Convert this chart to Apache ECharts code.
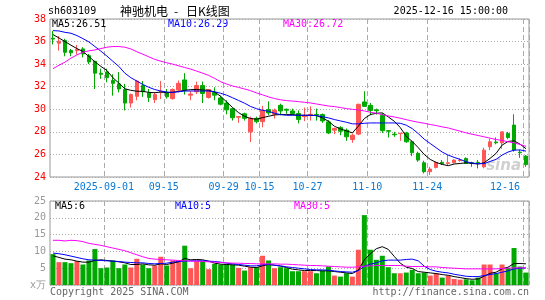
<!DOCTYPE html>
<html><head><meta charset="utf-8">
<script src="https://cdn.jsdelivr.net/npm/echarts@6/dist/echarts.min.js"></script>
<style>html,body{margin:0;padding:0;background:#fff}#c{width:545px;height:300px}</style>
</head><body><div id="c"></div>
<script>
const dates = [
'2025-08-19','2025-08-20','2025-08-21','2025-08-22','2025-08-25','2025-08-26','2025-08-27','2025-08-28','2025-08-29',
'2025-09-01','2025-09-02','2025-09-03','2025-09-04','2025-09-05','2025-09-08','2025-09-09','2025-09-10','2025-09-11','2025-09-12',
'2025-09-15','2025-09-16','2025-09-17','2025-09-18','2025-09-19','2025-09-22','2025-09-23','2025-09-24','2025-09-25','2025-09-26',
'2025-09-29','2025-09-30','2025-10-09','2025-10-10','2025-10-13','2025-10-14','2025-10-15','2025-10-16','2025-10-17',
'2025-10-20','2025-10-21','2025-10-22','2025-10-23','2025-10-24','2025-10-27','2025-10-28','2025-10-29','2025-10-30','2025-10-31',
'2025-11-03','2025-11-04','2025-11-05','2025-11-06','2025-11-07','2025-11-10','2025-11-11','2025-11-12','2025-11-13','2025-11-14',
'2025-11-17','2025-11-18','2025-11-19','2025-11-20','2025-11-21','2025-11-24','2025-11-25','2025-11-26','2025-11-27','2025-11-28',
'2025-12-01','2025-12-02','2025-12-03','2025-12-04','2025-12-05','2025-12-08','2025-12-09','2025-12-10','2025-12-11','2025-12-12',
'2025-12-15','2025-12-16'];

const opens = [36.30,35.85,36.10,35.20,35.20,35.35,34.75,34.25,33.20,33.30,32.55,32.25,31.75,30.55,31.15,
32.10,31.45,30.85,31.50,31.45,30.95,31.70,32.60,31.25,31.55,32.10,31.05,31.50,31.00,30.55,30.05,29.30,29.60,28.00,29.20,28.90,
29.97,29.56,30.35,30.00,29.85,29.62,29.35,29.50,29.55,29.53,28.88,28.15,28.38,28.15,27.32,27.80,30.65,30.35,29.95,29.47,28.10,27.80,27.85,
27.90,27.12,26.10,25.26,24.47,24.85,25.30,25.20,25.26,25.45,25.65,25.26,25.30,24.90,26.68,27.10,27.03,27.85,28.60,26.20,25.85];
const closes = [36.22,36.03,35.05,35.00,35.30,34.90,34.20,33.20,33.10,32.80,32.30,31.80,30.55,31.30,32.50,
31.55,31.05,31.30,31.60,31.10,31.75,32.30,31.70,31.35,32.10,31.40,31.75,31.25,30.45,29.95,29.25,29.35,29.20,29.20,28.90,29.90,
29.68,29.91,29.85,29.92,29.62,29.10,29.40,29.55,29.50,28.97,27.90,28.30,28.06,27.56,27.70,30.44,30.26,29.90,29.88,28.10,28.06,27.74,27.88,
27.12,26.15,25.50,24.47,24.70,25.30,25.20,25.26,25.50,25.50,25.20,25.20,25.26,26.38,27.12,27.03,28.00,27.50,26.38,26.15,25.10];
const lows = [35.74,35.20,34.70,34.70,34.85,34.60,34.00,31.80,32.70,32.40,31.20,31.50,29.90,30.15,30.80,
31.10,30.65,30.55,30.90,30.95,30.85,31.50,31.30,30.80,31.35,30.55,30.95,30.80,30.35,29.55,29.00,28.80,29.00,27.10,28.75,28.40,
29.47,29.18,29.47,29.60,29.47,28.75,28.95,29.00,29.00,28.80,27.80,27.80,27.70,27.20,27.03,27.70,30.20,29.47,29.53,27.90,27.50,27.56,27.20,
27.03,25.85,25.35,24.32,24.18,24.76,25.06,25.06,25.20,25.35,25.15,24.90,24.76,24.76,26.38,26.90,26.50,27.35,26.24,25.70,24.90];
const highs = [36.95,36.50,36.25,35.35,35.70,35.50,34.90,34.30,33.60,33.60,33.10,33.30,32.25,31.40,32.60,
32.50,31.80,31.50,32.50,31.80,31.85,32.55,33.20,31.60,32.45,32.45,31.75,31.95,31.20,30.80,30.15,29.40,29.70,29.35,29.35,30.30,
30.70,30.06,30.50,30.06,30.06,29.90,30.15,30.26,30.06,29.62,29.03,28.38,28.50,28.30,27.85,30.50,31.60,30.56,30.06,29.68,28.15,28.00,27.88,
28.00,27.20,26.24,25.44,24.90,25.35,25.50,25.94,25.56,25.65,25.73,25.35,25.50,26.60,27.40,27.50,28.00,28.00,29.56,26.40,25.94];

const ma5 = [36.62,36.32,36.00,35.68,35.38,35.12,34.68,34.20,33.80,33.44,32.80,32.32,31.82,31.68,31.60,
31.59,31.50,31.47,31.53,31.47,31.50,31.59,31.68,31.74,31.76,31.71,31.68,31.53,31.15,30.65,30.15,29.70,29.38,29.18,29.12,29.26,
29.38,29.50,29.53,29.53,29.53,29.47,29.47,29.47,29.44,29.24,28.94,28.50,28.26,28.09,27.91,28.50,29.18,29.53,29.65,29.68,29.32,28.94,28.38,
27.60,27.15,26.60,26.00,25.56,25.29,25.12,25.00,25.15,25.20,25.26,25.20,25.15,25.26,25.65,26.09,26.82,27.15,27.21,26.91,26.51];
const ma10 = [36.97,36.94,36.82,36.74,36.53,36.26,35.97,35.56,35.15,34.72,34.25,33.80,33.20,32.80,32.50,
32.20,31.95,31.75,31.62,31.53,31.50,31.55,31.62,31.62,31.62,31.62,31.62,31.55,31.42,31.25,31.02,30.78,30.54,30.25,30.05,29.91,
29.82,29.65,29.53,29.47,29.47,29.47,29.47,29.47,29.44,29.35,29.24,29.09,28.97,28.85,28.71,28.71,28.76,28.79,28.79,28.79,28.79,28.79,28.76,
28.59,28.29,27.85,27.35,26.97,26.59,26.21,25.94,25.74,25.56,25.35,25.24,25.18,25.18,25.38,25.56,25.94,26.21,26.38,26.40,26.29];
const ma30 = [33.60,33.90,34.18,34.53,34.82,35.06,35.18,35.26,35.38,35.50,35.56,35.56,35.50,35.35,35.10,
34.88,34.65,34.42,34.26,34.12,34.00,33.85,33.70,33.56,33.38,33.20,33.00,32.74,32.44,32.24,32.06,31.94,31.80,31.65,31.45,31.28,
31.10,30.95,30.84,30.77,30.73,30.68,30.62,30.56,30.47,30.38,30.29,30.24,30.15,30.06,30.00,29.94,29.85,29.74,29.65,29.53,29.41,29.32,29.21,
29.08,28.96,28.85,28.76,28.65,28.56,28.44,28.35,28.20,28.06,27.91,27.79,27.68,27.56,27.44,27.32,27.24,27.12,27.03,26.88,26.72];

const volumes = [9.2,6.8,6.8,6.5,7.1,6.1,7.3,10.7,5.0,5.2,7.3,5.0,6.1,5.2,7.8,
6.1,5.0,5.8,8.4,5.8,7.3,7.3,11.7,5.0,7.1,7.1,4.7,6.3,6.1,6.1,6.1,5.1,4.3,5.3,5.3,8.7,
7.3,5.0,5.3,5.0,4.1,4.1,4.1,4.1,3.5,4.3,5.5,2.8,2.5,3.5,2.5,10.5,20.8,10.5,7.5,8.7,5.3,3.5,3.5,
3.7,4.5,3.5,3.7,2.8,3.5,2.2,2.8,1.8,1.6,1.7,1.4,2.2,6.1,6.1,3.5,6.1,5.1,11.0,5.5,3.7];
const vma5 = [8.7,8.2,7.7,7.5,7.1,6.8,6.8,7.3,7.5,7.3,7.1,6.9,6.6,6.1,6.1,
6.3,6.0,5.9,6.3,6.1,6.5,6.9,7.9,7.5,7.6,7.5,7.1,6.5,6.2,6.1,6.0,5.9,5.6,5.3,5.2,5.7,
6.1,5.9,5.6,5.2,4.7,4.5,4.3,4.3,4.3,4.2,4.2,4.0,3.8,3.6,3.4,4.4,7.5,9.3,10.8,11.4,10.6,8.5,6.5,
5.3,4.9,4.0,3.8,3.6,3.4,3.1,2.9,2.5,2.2,1.9,1.7,1.8,2.6,3.5,3.8,4.8,5.3,6.4,6.4,6.3];
const vma10 = [9.5,9.3,9.0,8.6,8.2,7.8,7.5,7.4,7.3,7.2,7.1,7.0,6.8,6.7,6.6,
6.6,6.4,6.3,6.4,6.5,6.8,7.0,7.1,7.2,7.2,7.2,7.1,7.0,6.8,6.5,6.3,6.1,5.9,5.7,5.7,6.0,
6.1,5.9,5.7,5.4,5.2,5.0,4.8,4.6,4.5,4.5,4.4,4.2,4.0,3.9,3.8,4.3,5.6,6.2,6.6,7.2,7.4,7.4,7.4,
7.6,7.7,7.2,5.6,4.6,4.1,3.8,3.6,3.2,2.9,2.6,2.5,2.5,2.8,3.1,3.4,3.8,4.2,4.8,5.0,5.1];
const vma30 = [13.3,13.3,13.1,13.3,13.2,12.9,12.4,12.1,11.8,11.4,11.0,10.6,10.2,9.6,9.0,
8.4,7.9,7.7,7.6,7.5,7.4,7.3,7.2,7.1,7.1,7.0,6.9,6.8,6.7,6.6,6.5,6.5,6.4,6.4,6.3,6.3,
6.3,6.3,6.2,6.2,6.1,6.0,5.9,5.8,5.8,5.7,5.6,5.5,5.4,5.3,5.3,5.4,5.6,5.7,5.8,5.8,5.8,5.8,5.8,
5.6,5.5,5.5,5.5,5.4,5.4,5.2,5.1,5.0,4.9,4.8,4.8,4.8,4.8,4.8,4.8,4.9,5.0,5.1,5.1,5.1];

const tickDates = ['2025-09-01','2025-09-15','2025-09-29','2025-10-15','2025-10-27','2025-11-10','2025-11-24','2025-12-16'];
const tickLabels = ['2025-09-01','09-15','09-29','10-15','10-27','11-10','11-24','12-16'];
const priceTicks = [24,26,28,30,32,34,36,38];
const volTicks = [0,5,10,15,20,25];
const volUnit = 'x万';
const stockCode = 'sh603109';
const titleParts = ['神驰机电', '-', '日K线图'];
const timeText = '2025-12-16 15:00:00';
const priceMA = ['MA5:26.51','MA10:26.29','MA30:26.72'];
const volMA = ['MA5:6','MA10:5','MA30:5'];

const MONO = '"DejaVu Sans Mono", "Liberation Mono", monospace';
const CJK = '"Noto Sans CJK SC", sans-serif';
const UP = '#ff5555', DOWN = '#00a800';
const GRIDC = '#aaaaaa';

const candle = dates.map((d, i) => [opens[i], closes[i], lows[i], highs[i]]);
const volData = volumes.map((v, i) => ({value: v, itemStyle: {color: closes[i] >= opens[i] ? UP : DOWN}}));
const isTick = (idx, val) => tickDates.indexOf(val) >= 0;

function xAxisCfg(grid, showLabel) {
  return {
    type: 'category', gridIndex: grid, data: dates, boundaryGap: true,
    axisLine: {show: false}, axisTick: {show: false},
    axisLabel: {show: showLabel, interval: isTick, formatter: v => tickLabels[tickDates.indexOf(v)],
      color: '#0a7ad6', fontFamily: MONO, fontSize: 10, margin: 5, padding: [0, 6, 0, 0], alignMaxLabel: 'right'},
    splitLine: {show: true, interval: isTick, lineStyle: {color: GRIDC, width: 1, type: [5, 3]}}
  };
}
function lineS(data, color, xi) {
  return {type: 'line', xAxisIndex: xi, yAxisIndex: xi, data: data, symbol: 'none', showSymbol: false,
    lineStyle: {color: color, width: 1}, itemStyle: {color: color}, z: 5, silent: true};
}
function txt(text, x, y, color, align, font) {
  return {type: 'text', x: x, y: y, silent: true,
    style: {text: text, fill: color, font: font || ('10px ' + MONO), textAlign: align || 'left', verticalAlign: 'middle'}};
}

const chart = echarts.init(document.getElementById('c'), null, {renderer: 'canvas'});
chart.setOption({
  animation: false,
  backgroundColor: '#ffffff',
  grid: [
    {left: 50, right: 16, top: 19, height: 158, show: true, borderColor: '#999', borderWidth: 1, backgroundColor: 'transparent'},
    {left: 50, right: 16, top: 201, height: 84, show: true, borderColor: '#999', borderWidth: 1, backgroundColor: 'transparent'}
  ],
  xAxis: [xAxisCfg(0, true), xAxisCfg(1, false)],
  yAxis: [
    {type: 'value', gridIndex: 0, min: priceTicks[0], max: priceTicks[priceTicks.length - 1], interval: 2,
      axisLine: {show: false}, axisTick: {show: false},
      axisLabel: {color: '#ff0000', fontFamily: MONO, fontSize: 10, margin: 4},
      splitLine: {show: true, lineStyle: {color: GRIDC, width: 1, type: [1, 2]}}},
    {type: 'value', gridIndex: 1, min: volTicks[0], max: volTicks[volTicks.length - 1], interval: 5,
      axisLine: {show: false}, axisTick: {show: false},
      axisLabel: {color: '#999999', fontFamily: MONO, fontSize: 10, margin: 4, formatter: v => v === 0 ? volUnit : String(v)},
      splitLine: {show: true, lineStyle: {color: GRIDC, width: 1, type: [1, 2]}}}
  ],
  series: [
    {type: 'candlestick', xAxisIndex: 0, yAxisIndex: 0, data: candle, barWidth: 4,
      itemStyle: {color: UP, color0: DOWN, borderColor: UP, borderColor0: DOWN, borderWidth: 1}, z: 3, silent: true},
    lineS(ma5, '#000000', 0), lineS(ma10, '#0000ff', 0), lineS(ma30, '#ff00ff', 0),
    {type: 'bar', xAxisIndex: 1, yAxisIndex: 1, data: volData, barWidth: 5, z: 3, silent: true},
    lineS(vma5, '#000000', 1), lineS(vma10, '#0000ff', 1), lineS(vma30, '#ff00ff', 1)
  ],
  graphic: [
    txt(stockCode, 48, 11, '#000'),
    txt(titleParts[0], 120, 11, '#000', 'left', '12px ' + CJK),
    txt(titleParts[1], 176, 11, '#000', 'center', '12px ' + CJK),
    txt(titleParts[2], 186, 11, '#000', 'left', '12px ' + CJK),
    txt(timeText, 508, 11, '#000', 'right'),
    txt(priceMA[0], 52, 24, '#000'),
    txt(priceMA[1], 168, 24, '#0000ff'),
    txt(priceMA[2], 283, 24, '#ff00ff'),
    txt(volMA[0], 55, 206, '#000'),
    txt(volMA[1], 175, 206, '#0000ff'),
    txt(volMA[2], 294, 206, '#ff00ff'),
    txt('Copyright 2025 SINA.COM', 50, 292, '#666'),
    txt('http://finance.sina.com.cn', 529, 292, '#666', 'right'),
    txt('sina', 521, 166, 'rgba(150,150,150,0.45)', 'right', 'italic bold 15px "DejaVu Sans", sans-serif')
  ]
});
</script></body></html>
